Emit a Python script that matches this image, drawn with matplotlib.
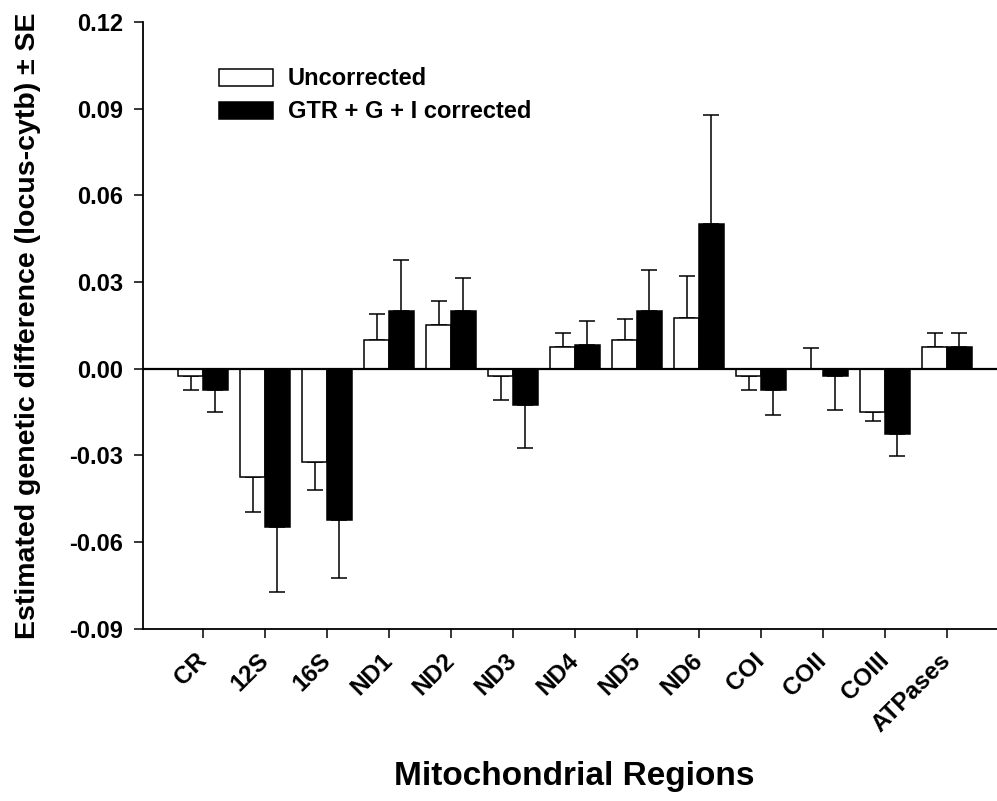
import numpy as np
import matplotlib
matplotlib.use('Agg')
import matplotlib.pyplot as plt
from matplotlib.patches import Patch
from matplotlib.transforms import ScaledTranslation

plt.rcParams['font.family'] = ['Liberation Sans', 'DejaVu Sans']
plt.rcParams['font.weight'] = 'bold'

regions = ['CR', '12S', '16S', 'ND1', 'ND2', 'ND3', 'ND4', 'ND5', 'ND6',
           'COI', 'COII', 'COIII', 'ATPases']
uncorrected = [-0.0025, -0.0375, -0.0325, 0.010, 0.015, -0.0025, 0.0075,
               0.010, 0.0175, -0.0025, 0.0, -0.015, 0.0075]
uncorrected_se = [0.005, 0.012, 0.0095, 0.009, 0.0085, 0.0085, 0.0048,
                  0.007, 0.0144, 0.005, 0.007, 0.003, 0.0048]
corrected = [-0.0075, -0.055, -0.0525, 0.020, 0.020, -0.0125, 0.008,
             0.020, 0.050, -0.0075, -0.0025, -0.0225, 0.0075]
corrected_se = [0.0075, 0.0225, 0.020, 0.0175, 0.0113, 0.015, 0.0083,
                0.014, 0.0378, 0.0085, 0.012, 0.0078, 0.0048]


def one_sided(vals, se):
    # error bar only points away from zero
    vals = np.array(vals)
    se = np.array(se)
    lower = np.where(vals < 0, se, 0)
    upper = np.where(vals >= 0, se, 0)
    return [lower, upper]


fig = plt.figure(figsize=(9.97, 8.01), dpi=100)
ax = fig.add_axes([143 / 997, 1 - 628.5 / 801, 1 - 143 / 997, (628.5 - 22) / 801])

r = np.arange(len(regions))
width = 0.4
lw = 1.1

ax.bar(r - width / 2, uncorrected, width=width, color='white', edgecolor='k',
       linewidth=lw, zorder=2)
ax.bar(r + width / 2, corrected, width=width, color='black', edgecolor='k',
       linewidth=lw, zorder=2)
ax.errorbar(r - width / 2, uncorrected, yerr=one_sided(uncorrected, uncorrected_se),
            fmt='none', ecolor='k', elinewidth=lw, capsize=6, capthick=lw, zorder=1)
ax.errorbar(r + width / 2, corrected, yerr=one_sided(corrected, corrected_se),
            fmt='none', ecolor='k', elinewidth=lw, capsize=6, capthick=lw, zorder=1)

ax.axhline(0, color='k', linewidth=1.6, zorder=3)

ax.set_xlim(-60 / 62, (997 - 203) / 62)
ax.set_ylim(-0.09, 0.12)
ax.set_yticks(np.arange(-0.09, 0.1201, 0.03))
ax.set_yticklabels(['%.2f' % v for v in np.arange(-0.09, 0.1201, 0.03)])
ax.set_xticks(r)
ax.set_xticklabels(regions, rotation=45, ha='right', va='top', rotation_mode='anchor')

for s in ['top', 'right']:
    ax.spines[s].set_visible(False)
for s in ['left', 'bottom']:
    ax.spines[s].set_linewidth(1.3)
ax.tick_params(axis='both', direction='out', length=6.5, width=1.1, labelsize=17)
ax.tick_params(axis='x', labelsize=17.5, pad=8)
ax.tick_params(axis='y', pad=8)

shift = ScaledTranslation(-0.08, 0, fig.dpi_scale_trans)
for lab in ax.get_xticklabels():
    lab.set_transform(lab.get_transform() + shift)

handles = [Patch(facecolor='white', edgecolor='k', linewidth=lw, label='Uncorrected'),
           Patch(facecolor='black', edgecolor='k', linewidth=lw, label='GTR + G + I corrected')]
ax.legend(handles=handles, loc='upper left', bbox_to_anchor=(0.089, 0.925),
          frameon=False, fontsize=17, handlelength=2.3, handleheight=0.72,
          handletextpad=0.62, labelspacing=0.42, borderpad=0, borderaxespad=0)

fig.text(574 / 997, 1 - 777 / 801, 'Mitochondrial Regions', fontsize=24,
         ha='center', va='center')
fig.text(28 / 997, 1 - 325.5 / 801, 'Estimated genetic difference (locus-cytb) \u00b1 SE',
         fontsize=20.5, rotation=90, ha='center', va='center')

fig.savefig('out.png', dpi=100)
